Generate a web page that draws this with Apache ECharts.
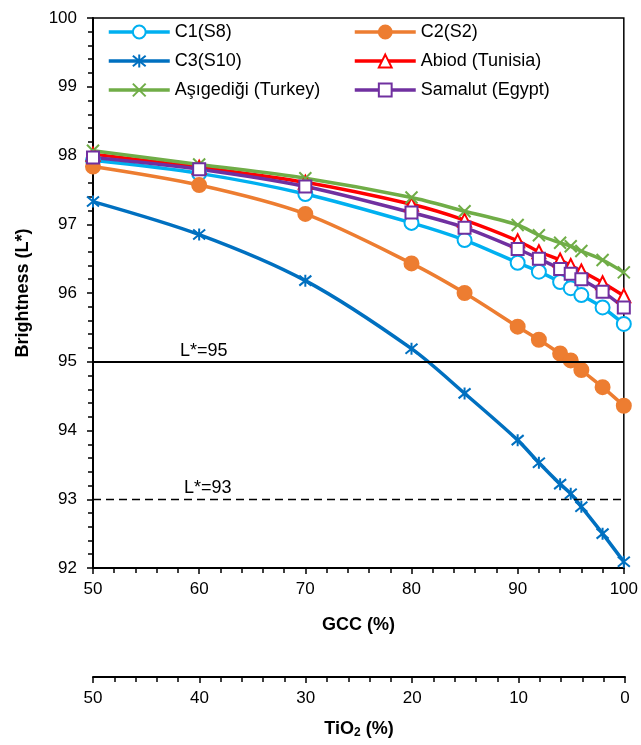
<!DOCTYPE html>
<html>
<head>
<meta charset="utf-8">
<script src="https://cdn.jsdelivr.net/npm/echarts@6/dist/echarts.min.js"></script>
<style>
  html, body { margin: 0; padding: 0; background: #fff; }
  #chart_con { width: 641px; height: 745px; }
</style>
</head>
<body>
<div id="chart_con"></div>
<script>
    // GCC share (%) for every measured mix
    var gcc = [50, 60, 70, 80, 85, 90, 92, 94, 95, 96, 98, 100];

    // brightness L*
    var c1 = [97.93, 97.74, 97.44, 97.02, 96.77, 96.44, 96.31, 96.16, 96.07, 95.97, 95.79, 95.55];
    var c2 = [97.84, 97.57, 97.15, 96.43, 96.00, 95.51, 95.32, 95.12, 95.02, 94.88, 94.63, 94.36];
    var c3 = [97.33, 96.85, 96.18, 95.19, 94.54, 93.86, 93.53, 93.22, 93.08, 92.89, 92.50, 92.09];
    var abiod = [98.02, 97.83, 97.61, 97.29, 97.06, 96.76, 96.60, 96.48, 96.40, 96.32, 96.15, 95.96];
    var turkey = [98.07, 97.87, 97.67, 97.39, 97.19, 96.99, 96.84, 96.73, 96.68, 96.61, 96.48, 96.30];
    var egypt = [97.97, 97.80, 97.55, 97.17, 96.95, 96.64, 96.50, 96.35, 96.28, 96.20, 96.02, 95.79];

    var seriesNames = ['C1(S8)', 'C2(S2)', 'C3(S10)', 'Abiod (Tunisia)', 'Aşıgediği (Turkey)', 'Samalut (Egypt)'];
    var limitLines = [95, 93];

    var font = 'Liberation Sans, Arial, sans-serif';
    var starPath = 'path://M0,0L10,10M10,0L0,10M5,-1L5,11';
    var crossPath = 'path://M0,0L10,10M10,0L0,10';

    function pairs(ys) {
        var out = [];
        for (var i = 0; i < gcc.length; i++) {
            out.push([gcc[i], ys[i]]);
        }
        return out;
    }

    function makeSeries(name, ys, color, symbol, size, fill) {
        return {
            name: name,
            type: 'line',
            xAxisIndex: 0,
            yAxisIndex: 0,
            smooth: 0.3,
            data: pairs(ys),
            symbol: symbol,
            symbolSize: size,
            showAllSymbol: true,
            lineStyle: { color: color, width: 3.5 },
            itemStyle: { color: fill, borderColor: color, borderWidth: 2 },
            emphasis: { disabled: true }
        };
    }

    var series = [
        makeSeries(seriesNames[0], c1, '#00B0F0', 'circle', 14, '#fff'),
        makeSeries(seriesNames[1], c2, '#ED7D31', 'circle', 14, '#ED7D31'),
        makeSeries(seriesNames[2], c3, '#0070C0', starPath, 12, 'none'),
        makeSeries(seriesNames[3], abiod, '#FF0000', 'triangle', 13, '#fff'),
        makeSeries(seriesNames[4], turkey, '#70AD47', crossPath, 12, 'none'),
        makeSeries(seriesNames[5], egypt, '#7030A0', 'rect', 12, '#fff')
    ];

    series[0].markLine = {
        silent: true,
        symbol: 'none',
        animation: false,
        data: [
            {
                yAxis: limitLines[0],
                lineStyle: { color: '#000', width: 2, type: 'solid' },
                label: { formatter: 'L*=95', position: 'insideStartTop', distance: [87, 2], color: '#000', fontSize: 18, fontFamily: font }
            },
            {
                yAxis: limitLines[1],
                lineStyle: { color: '#000', width: 1.3, type: [8, 5] },
                label: { formatter: 'L*=93', position: 'insideStartTop', distance: [91, 2], color: '#000', fontSize: 18, fontFamily: font }
            }
        ]
    };

    var legendText = { color: '#000', fontSize: 18, fontFamily: font, lineHeight: 20 };

    var option = {
        animation: false,
        backgroundColor: '#fff',
        legend: [
            {
                orient: 'vertical', left: 107, top: 22, padding: 0,
                itemWidth: 61, itemHeight: 16, itemGap: 9,
                lineStyle: { width: 3.5 },
                data: [seriesNames[0], seriesNames[2], seriesNames[4]],
                textStyle: legendText, selectedMode: false
            },
            {
                orient: 'vertical', left: 353, top: 22, padding: 0,
                itemWidth: 61, itemHeight: 16, itemGap: 9,
                lineStyle: { width: 3.5 },
                data: [seriesNames[1], seriesNames[3], seriesNames[5]],
                textStyle: legendText, selectedMode: false
            }
        ],
        grid: [
            { left: 93, right: 16, top: 18, bottom: 177, show: true, borderColor: '#000', borderWidth: 1.5, backgroundColor: 'transparent' },
            { left: 93, right: 16, top: 677, height: 0, show: false }
        ],
        xAxis: [
            {
                type: 'value', gridIndex: 0, min: 50, max: 100, interval: 10,
                name: 'GCC (%)', nameLocation: 'middle', nameGap: 48,
                nameTextStyle: { color: '#000', fontSize: 18, fontWeight: 'bold', fontFamily: font },
                axisLine: { show: true, lineStyle: { color: '#000', width: 2 } },
                axisTick: { show: true, length: 6, lineStyle: { color: '#000', width: 1.5 } },
                minorTick: { show: true, splitNumber: 5, length: 5, lineStyle: { color: '#000', width: 1.5 } },
                axisLabel: { color: '#000', fontSize: 17, fontFamily: font, margin: 13 },
                splitLine: { show: false }
            },
            {
                type: 'value', gridIndex: 1, min: 0, max: 50, interval: 10, inverse: true,
                position: 'bottom',
                name: 'TiO{sub|2} (%)', nameLocation: 'middle', nameGap: 42,
                nameTextStyle: {
                    color: '#000', fontSize: 18, fontWeight: 'bold', fontFamily: font,
                    rich: { sub: { fontSize: 12, fontWeight: 'bold', fontFamily: font, color: '#000', verticalAlign: 'bottom', padding: [8, 0, 0, 0] } }
                },
                axisLine: { show: true, lineStyle: { color: '#000', width: 2 } },
                axisTick: { show: true, length: 6, lineStyle: { color: '#000', width: 1.5 } },
                minorTick: { show: true, splitNumber: 5, length: 5, lineStyle: { color: '#000', width: 1.5 } },
                axisLabel: { color: '#000', fontSize: 17, fontFamily: font, margin: 13 },
                splitLine: { show: false }
            }
        ],
        yAxis: [
            {
                type: 'value', gridIndex: 0, min: 92, max: 100, interval: 1,
                name: 'Brightness (L*)', nameLocation: 'middle', nameGap: 61,
                nameTextStyle: { color: '#000', fontSize: 18, fontWeight: 'bold', fontFamily: font },
                axisLine: { show: true, lineStyle: { color: '#000', width: 2 } },
                axisTick: { show: true, length: 6, lineStyle: { color: '#000', width: 1.5 } },
                minorTick: { show: true, splitNumber: 5, length: 5, lineStyle: { color: '#000', width: 1.5 } },
                axisLabel: { color: '#000', fontSize: 17, fontFamily: font, margin: 16 },
                splitLine: { show: false }
            },
            { type: 'value', gridIndex: 1, min: 0, max: 1, show: false }
        ],
        series: series
    };

    var chart = echarts.init(document.getElementById('chart_con'));
    chart.setOption(option);
</script>
</body>
</html>
